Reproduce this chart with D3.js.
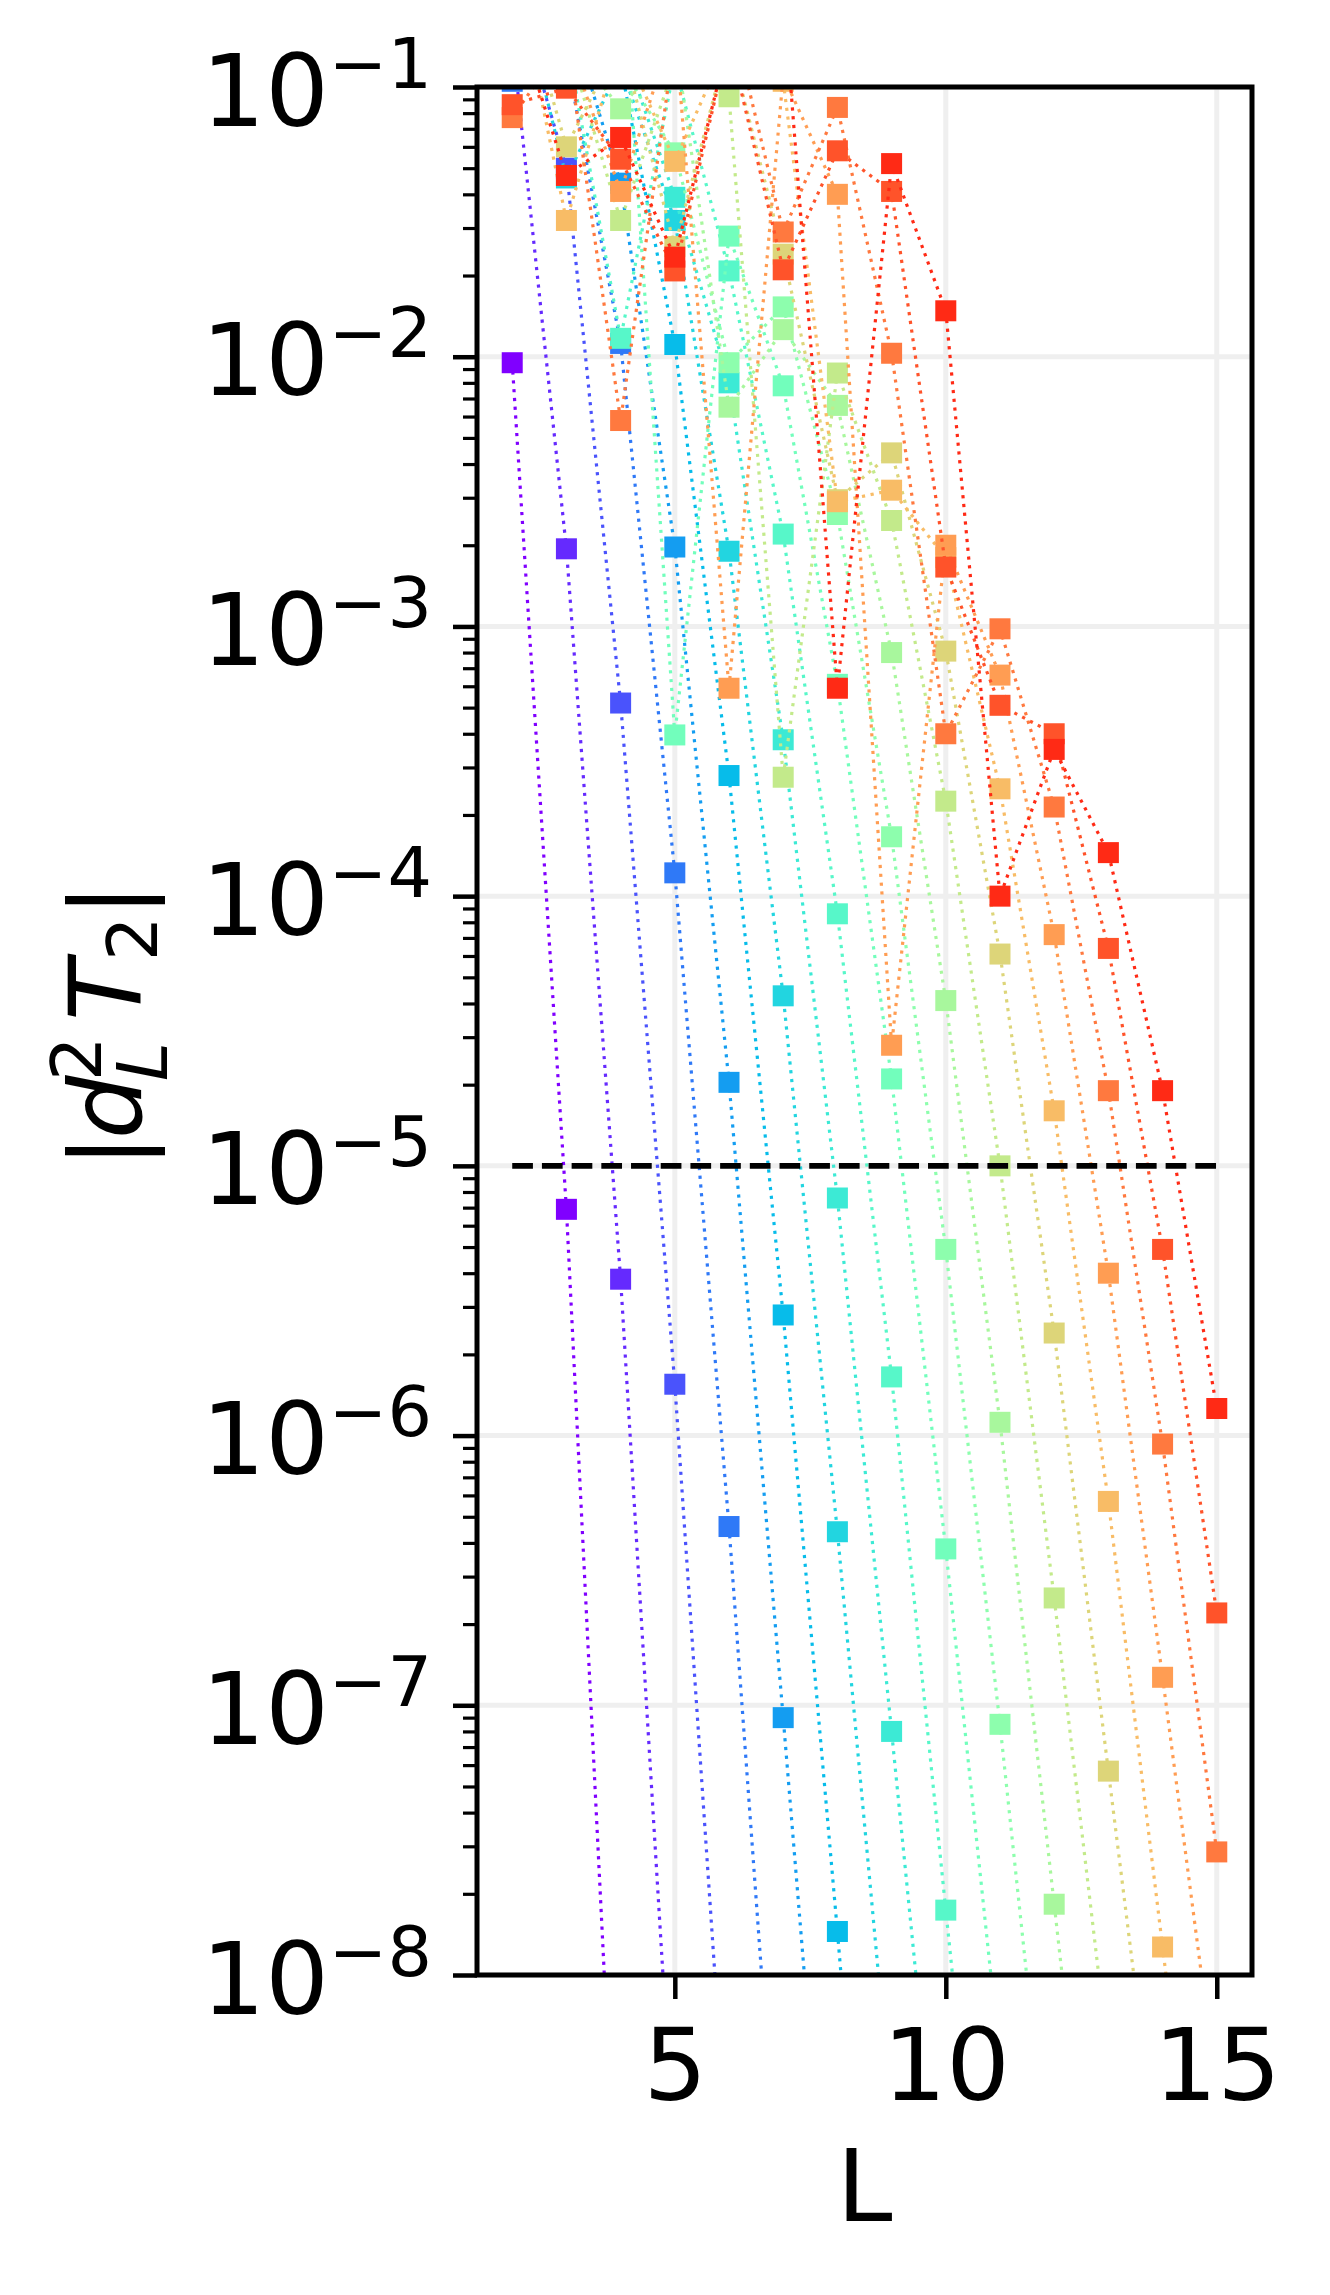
<!DOCTYPE html>
<html>
<head>
<meta charset="UTF-8">
<title>|d_L^2 T_2| vs L</title>
<script src="https://d3js.org/d3.v7.min.js"></script>
<style>
  body { margin: 0; background: #fff; }
  svg { display: block; font-family: "DejaVu Sans", sans-serif; }
</style>
</head>
<body>
<svg width="1330" height="2295"></svg>
<script>
// L values and one series per colour (rainbow, 19 curves); null = no point drawn
const Ls = [2, 3, 4, 5, 6, 7, 8, 9, 10, 11, 12, 13, 14, 15];
const s0  = [9.5e-3, 6.9e-6, 6e-10, null, null, null, null, null, null, null, null, null, null, null];
const s1  = [0.15, 1.94e-3, 3.8e-6, 1.9e-9, null, null, null, null, null, null, null, null, null, null];
const s2  = [0.25, 5.0e-2, 5.2e-4, 1.55e-6, 1.7e-9, null, null, null, null, null, null, null, null, null];
const s3  = [0.105, 0.13, 1.12e-2, 1.22e-4, 4.6e-7, 8e-10, null, null, null, null, null, null, null, null];
const s4  = [0.3, 0.2, 4.4e-2, 1.97e-3, 2.04e-5, 9e-8, 3.3e-10, null, null, null, null, null, null, null];
const s5  = [0.3, 0.2, 0.12, 1.11e-2, 2.8e-4, 2.8e-6, 1.45e-8, 6e-11, null, null, null, null, null, null];
const s6  = [0.3, 4.6e-2, 0.12, 3.2e-2, 1.9e-3, 4.27e-5, 4.4e-7, 3e-9, null, null, null, null, null, null];
const s7  = [0.3, 0.2, 0.15, 3.9e-2, 8.0e-3, 3.8e-4, 7.6e-6, 8e-8, 7.8e-10, null, null, null, null, null];
const s8  = [0.3, 0.15, 1.17e-2, 0.12, 2.08e-2, 2.2e-3, 8.6e-5, 1.65e-6, 1.74e-8, 2e-10, null, null, null, null];
const s9  = [0.3, 0.2, 0.35, 3.96e-4, 2.8e-2, 7.8e-3, 6.1e-4, 2.1e-5, 3.8e-7, 4.8e-9, null, null, null, null];
const s10 = [0.3, 0.15, 0.12, 5.7e-2, 9.5e-3, 1.53e-2, 2.6e-3, 1.66e-4, 4.9e-6, 8.5e-8, 1.1e-9, null, null, null];
const s11 = [0.3, 0.15, 8.3e-2, 0.15, 6.5e-3, 1.26e-2, 6.6e-3, 8.0e-4, 4.1e-5, 1.12e-6, 1.83e-8, 3e-10, null, null];
const s12 = [0.3, 0.15, 3.2e-2, 0.12, 9.2e-2, 2.76e-4, 8.7e-3, 2.47e-3, 2.25e-4, 1.0e-5, 2.5e-7, 5e-9, null, null];
const s13 = [0.3, 6.0e-2, 0.15, 2.56e-2, 0.15, 2.4e-2, 2.95e-3, 4.4e-3, 8.1e-4, 6.1e-5, 2.4e-6, 5.7e-8, 1.4e-9, null];
const s14 = [0.3, 3.2e-2, 0.15, 5.3e-2, 0.15, 0.105, 2.9e-3, 3.2e-3, 1.8e-3, 2.5e-4, 1.6e-5, 5.7e-7, 1.27e-8, 3e-10];
const s15 = [0.3, 0.15, 4.1e-2, 0.17, 5.9e-4, 0.11, 4.0e-2, 2.8e-5, 2.0e-3, 6.6e-4, 7.2e-5, 4.0e-6, 1.27e-7, 3.7e-9];
const s16 = [7.7e-2, 0.15, 5.8e-3, 0.15, 0.2, 2.9e-2, 8.4e-2, 1.03e-2, 4.0e-4, 9.8e-4, 2.14e-4, 1.9e-5, 9.3e-7, 2.86e-8];
const s17 = [8.6e-2, 9.9e-2, 5.4e-2, 2.08e-2, 0.15, 2.1e-2, 5.8e-2, 4.1e-2, 1.66e-3, 5.1e-4, 4.0e-4, 6.4e-5, 4.9e-6, 2.2e-7];
const s18 = [0.2, 4.7e-2, 6.5e-2, 2.34e-2, 0.15, 0.23, 5.9e-4, 5.2e-2, 1.48e-2, 1.0e-4, 3.5e-4, 1.45e-4, 1.9e-5, 1.26e-6];
const series = [s0, s1, s2, s3, s4, s5, s6, s7, s8, s9, s10, s11, s12, s13, s14, s15, s16, s17, s18];

const yTicks = [1e-1, 1e-2, 1e-3, 1e-4, 1e-5, 1e-6, 1e-7, 1e-8];
const yTickExp = ["\u22121", "\u22122", "\u22123", "\u22124", "\u22125", "\u22126", "\u22127", "\u22128"];
const xTicks = [5, 10, 15];
const threshold = 1e-5;
const thresholdRange = [2, 15];

const pLeft = 477, pRight = 1252, pTop = 87, pBottom = 1975;
const svg = d3.select("svg");

const x = d3.scaleLinear().domain([1.35, 15.65]).range([pLeft, pRight]);
const y = d3.scaleLog().domain([1e-1, 1e-8]).range([pTop, pBottom]);

// matplotlib "rainbow" colormap
function rainbow(t) {
    const r = Math.min(1, Math.abs(2 * t - 0.5));
    const g = Math.sin(Math.PI * t);
    const b = Math.cos(Math.PI * t / 2);
    return d3.rgb(r * 255, g * 255, b * 255).formatHex();
}

// grid
const grid = svg.append("g").attr("stroke", "#efefef").attr("stroke-width", 5);
grid.selectAll(".gx").data(xTicks).enter().append("line")
    .attr("x1", d => x(d)).attr("x2", d => x(d))
    .attr("y1", pTop).attr("y2", pBottom);
grid.selectAll(".gy").data(yTicks).enter().append("line")
    .attr("x1", pLeft).attr("x2", pRight)
    .attr("y1", d => y(d)).attr("y2", d => y(d));

svg.append("clipPath").attr("id", "plotclip")
    .append("rect").attr("x", pLeft).attr("y", pTop)
    .attr("width", pRight - pLeft).attr("height", pBottom - pTop);

const plot = svg.append("g").attr("clip-path", "url(#plotclip)");

const line = d3.line()
    .defined(d => d.v != null)
    .x(d => x(d.L))
    .y(d => y(d.v));

const ms = 21;
series.forEach((vals, i) => {
    const col = rainbow(i / series.length);
    const pts = vals.map((v, j) => ({ L: Ls[j], v: v }));
    plot.append("path")
        .datum(pts)
        .attr("d", line)
        .attr("fill", "none")
        .attr("stroke", col)
        .attr("stroke-width", 3.2)
        .attr("stroke-dasharray", "3.2,5.6");
    plot.selectAll(".m" + i)
        .data(pts.filter(d => d.v != null))
        .enter().append("rect")
        .attr("x", d => x(d.L) - ms / 2)
        .attr("y", d => y(d.v) - ms / 2)
        .attr("width", ms)
        .attr("height", ms)
        .attr("fill", col);
});

// threshold line
svg.append("line")
    .attr("x1", x(thresholdRange[0])).attr("x2", x(thresholdRange[1]))
    .attr("y1", y(threshold)).attr("y2", y(threshold))
    .attr("stroke", "#000").attr("stroke-width", 5.6)
    .attr("stroke-dasharray", "20.7,9");

// axes
const minor = [];
for (let e = -8; e < -1; e++) {
    for (let m = 2; m <= 9; m++) minor.push(m * Math.pow(10, e));
}

const yMinor = svg.append("g")
    .attr("transform", `translate(${pLeft},0)`)
    .call(d3.axisLeft(y).tickValues(minor).tickSize(14).tickSizeOuter(0).tickFormat(""));
yMinor.selectAll("line").attr("stroke-width", 3.2);

const yAxis = svg.append("g")
    .attr("transform", `translate(${pLeft},0)`)
    .call(d3.axisLeft(y).tickValues(yTicks).tickSize(24).tickSizeOuter(0).tickFormat(""));
yAxis.selectAll("line").attr("stroke-width", 4.5);
yAxis.selectAll(".tick").each(function (d) {
    const t = d3.select(this).append("text")
        .attr("x", -45)
        .attr("y", 38)
        .attr("text-anchor", "end")
        .attr("fill", "#000")
        .style("font-family", "DejaVu Sans")
        .style("font-size", "100px");
    t.append("tspan").text("10");
    t.append("tspan").attr("dy", -38).style("font-size", "70px").text(yTickExp[yTicks.indexOf(d)]);
});

const xAxis = svg.append("g")
    .attr("transform", `translate(0,${pBottom})`)
    .call(d3.axisBottom(x).tickValues(xTicks).tickSize(24).tickSizeOuter(0).tickPadding(30));
xAxis.selectAll("line").attr("stroke-width", 4.5);
xAxis.selectAll("text")
    .style("font-family", "DejaVu Sans")
    .style("font-size", "100px")
    .attr("fill", "#000");

svg.selectAll(".domain").remove();

svg.append("rect")
    .attr("x", pLeft).attr("y", pTop)
    .attr("width", pRight - pLeft).attr("height", pBottom - pTop)
    .attr("fill", "none").attr("stroke", "#000").attr("stroke-width", 5);

// axis labels
svg.append("text")
    .attr("x", (pLeft + pRight) / 2)
    .attr("y", 2221)
    .attr("text-anchor", "middle")
    .style("font-size", "100px")
    .text("L");

const yl = svg.append("g")
    .attr("transform", `translate(141,${(pTop + pBottom) / 2}) rotate(-90)`)
    .style("font-family", "DejaVu Sans");
yl.append("text").attr("x", -137).attr("y", 0).style("font-size", "100px").text("|");
yl.append("text").attr("x", -108).attr("y", 0).style("font-size", "100px").style("font-style", "italic").text("d");
yl.append("text").attr("x", -50).attr("y", -40).style("font-size", "70px").text("2");
yl.append("text").attr("x", -50).attr("y", 26).style("font-size", "70px").style("font-style", "italic").text("L");
yl.append("text").attr("x", 10).attr("y", 0).style("font-size", "100px").style("font-style", "italic").text("T");
yl.append("text").attr("x", 70).attr("y", 16).style("font-size", "70px").text("2");
yl.append("text").attr("x", 114).attr("y", 0).style("font-size", "100px").text("|");
</script>
</body>
</html>
